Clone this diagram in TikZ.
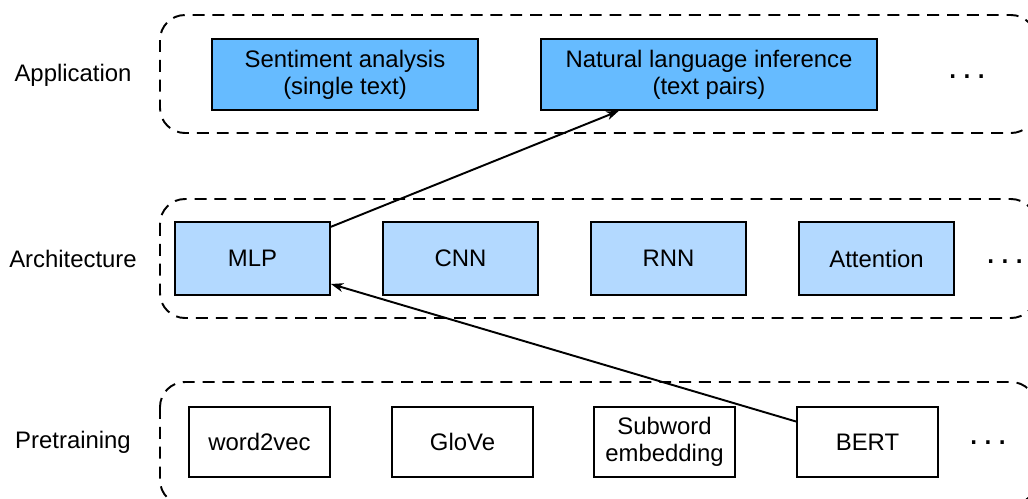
\documentclass[tikz,border=0pt]{standalone}
\usepackage{fontspec}
\setmainfont{Liberation Sans}
\usepackage{tikz}
\usetikzlibrary{positioning,arrows.meta}
\definecolor{appblue}{RGB}{102,187,255}
\definecolor{archblue}{RGB}{179,217,255}

\begin{document}
\begin{tikzpicture}[x=0.02cm, y=-0.02cm, line width=1.1pt,
  every node/.style={font=\fontsize{13.6}{15.4}\selectfont},
  layer/.style={draw, dash pattern=on 6.8pt off 4.5pt, rounded corners=0.5cm},
  box/.style={draw, align=center, inner sep=0pt},
  dots/.style={font=\fontsize{20}{22}\selectfont, inner sep=0pt}]
  \useasboundingbox (0,0) rectangle (1028,498);
  % layers
  \draw[layer] (160,15) rectangle (1036,133);
  \draw[layer] (160,199) rectangle (1036,318);
  \draw[layer] (160,382) rectangle (1036,505);
  \node (lapp) at (73,75) {Application};
  \node (larch) at (73,259) {Architecture};
  \node (lpre) at (73,442) {Pretraining};
  % application
  \node[box,fill=appblue,minimum width=5.32cm,minimum height=1.42cm]
    (sent) at (345,74.5) {Sentiment analysis\\(single text)};
  \node[box,fill=appblue,minimum width=6.72cm,minimum height=1.42cm]
    (nli) at (709,74.5) {Natural language inference\\(text pairs)};
  \node[dots] (d1) at (967,77) {.\kern2.5pt.\kern2.5pt.};
  % architecture
  \foreach \x/\n/\l in {252.5/mlp/MLP, 460.5/cnn/CNN, 668.5/rnn/RNN,
    876.5/att/Attention}{
    \node[box,fill=archblue,minimum width=3.1cm,minimum height=1.46cm]
      (\n) at (\x,258.5) {\l};}
  \node[dots] (d2) at (1005,262) {.\kern2.5pt.\kern2.5pt.};
  % pretraining
  \foreach \x/\n/\l in {259.5/w2v/word2vec, 462.5/glove/GloVe,
    664.5/sub/{Subword\\embedding}, 867.5/bert/BERT}{
    \node[box,minimum width=2.82cm,minimum height=1.4cm]
      (\n) at (\x,442) {\l};}
  \node[dots] (d3) at (988,443) {.\kern2.5pt.\kern2.5pt.};
  % arrows
  \draw[-{Stealth[length=7pt,width=5pt,inset=2pt]}] (mlp.22) -- (nli.202);
  \draw[-{Stealth[length=7pt,width=5pt,inset=2pt]}] (bert.164) -- (mlp.342);
\end{tikzpicture}
\end{document}
